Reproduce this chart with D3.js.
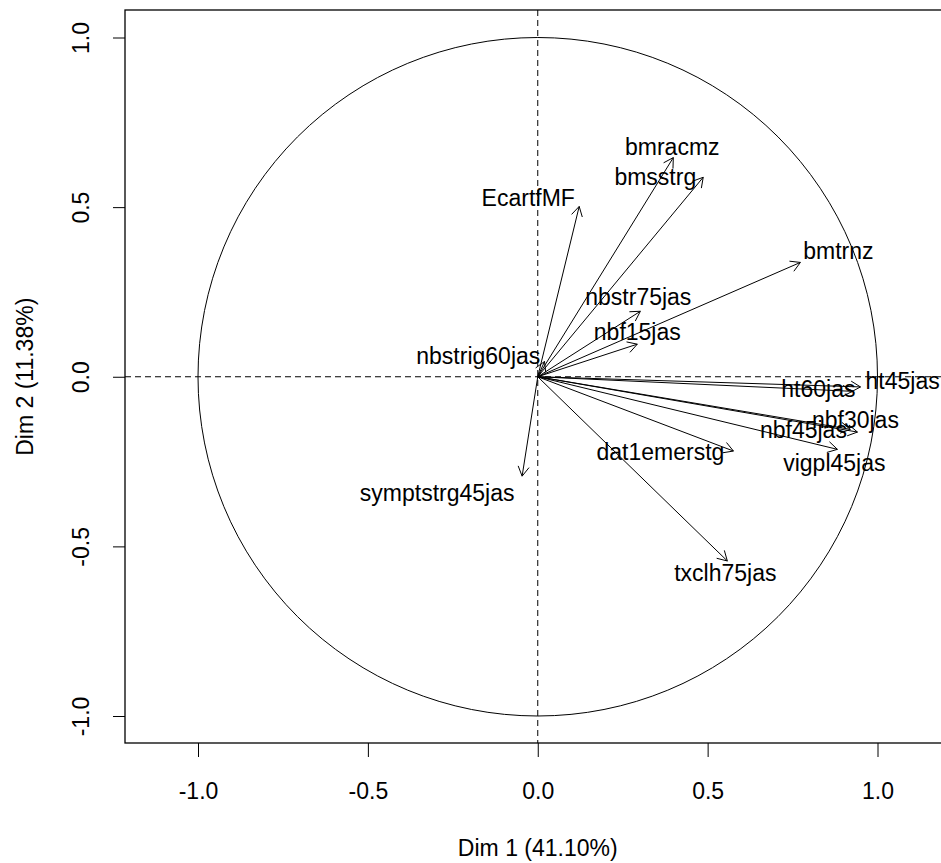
<!DOCTYPE html>
<html>
<head>
<meta charset="utf-8">
<script src="https://cdn.jsdelivr.net/npm/d3@7"></script>
<style>
  html, body { margin: 0; padding: 0; background: #fff; }
  text { font-family: "Liberation Sans", Arial, sans-serif; fill: #000; }
</style>
</head>
<body>
<div class="container"></div>
<script>
// variables of the factor map (coordinates on Dim 1 / Dim 2)
const varNames = ["bmtrnz", "bmracmz", "bmsstrg", "EcartfMF", "nbstr75jas", "nbf15jas",
  "nbstrig60jas", "symptstrg45jas", "ht45jas", "ht60jas", "nbf30jas", "nbf45jas",
  "vigpl45jas", "dat1emerstg", "txclh75jas"];
const dim1 = [0.773, 0.399, 0.487, 0.122, 0.302, 0.293, 0.02, -0.046, 0.95, 0.926, 0.941, 0.92, 0.882, 0.576, 0.558];
const dim2 = [0.337, 0.646, 0.588, 0.502, 0.193, 0.096, 0.045, -0.293, -0.03, -0.043, -0.163, -0.155, -0.214, -0.219, -0.543];
// where the labels sit (same units, shifted to avoid overlap like autoLab)
const labelDim1 = [0.885, 0.396, 0.346, -0.028, 0.296, 0.293, -0.175, -0.296, 1.074, 0.826, 0.935, 0.782, 0.873, 0.361, 0.552];
const labelDim2 = [0.37, 0.676, 0.588, 0.526, 0.234, 0.131, 0.06, -0.343, -0.013, -0.037, -0.128, -0.158, -0.255, -0.222, -0.579];

const tickValues = [-1.0, -0.5, 0.0, 0.5, 1.0];
const xTitle = "Dim 1 (41.10%)";
const yTitle = "Dim 2 (11.38%)";

const width = 941;
const height = 863;
const frame = { left: 125, top: 10, right: 944, bottom: 743 };

const svg = d3.select(".container").append("svg")
  .attr("width", width)
  .attr("height", height);

const x = d3.scaleLinear().domain([-1, 1]).range([198, 877.5]);
const y = d3.scaleLinear().domain([-1, 1]).range([716, 37.5]);

// R style labels: plain hyphen for the minus sign
const fmt = d => d.toFixed(1);

// axes
svg.append("g")
  .attr("transform", `translate(0,${frame.bottom})`)
  .call(d3.axisBottom(x).tickValues(tickValues).tickFormat(fmt).tickSize(14).tickPadding(26).tickSizeOuter(0))
  .call(g => g.select(".domain").remove())
  .call(g => g.selectAll("text").attr("font-size", 23).attr("font-family", "Liberation Sans, Arial, sans-serif"));

const yAxis = svg.append("g")
  .attr("transform", `translate(${frame.left},0)`)
  .call(d3.axisLeft(y).tickValues(tickValues).tickFormat(fmt).tickSize(12).tickSizeOuter(0))
  .call(g => g.select(".domain").remove());
yAxis.selectAll(".tick text")
  .attr("font-size", 23)
  .attr("font-family", "Liberation Sans, Arial, sans-serif")
  .attr("x", null).attr("dy", null)
  .attr("text-anchor", "middle")
  .attr("transform", "translate(-44,0) rotate(-90)")
  .attr("dy", "0.35em");

// frame
svg.append("rect")
  .attr("x", frame.left)
  .attr("y", frame.top)
  .attr("width", frame.right - frame.left)
  .attr("height", frame.bottom - frame.top)
  .attr("fill", "none")
  .attr("stroke", "#000")
  .attr("stroke-width", 1.3);

// unit circle
svg.append("ellipse")
  .attr("cx", x(0)).attr("cy", y(0))
  .attr("rx", x(1) - x(0)).attr("ry", y(0) - y(1))
  .attr("fill", "none")
  .attr("stroke", "#000")
  .attr("stroke-width", 1);

// dashed reference lines
svg.append("line")
  .attr("x1", frame.left).attr("x2", frame.right)
  .attr("y1", y(0)).attr("y2", y(0))
  .attr("stroke", "#000").attr("stroke-dasharray", "6,4");
svg.append("line")
  .attr("x1", x(0)).attr("x2", x(0))
  .attr("y1", frame.top).attr("y2", frame.bottom)
  .attr("stroke", "#000").attr("stroke-dasharray", "6,4");

// arrows
const vars = varNames.map((name, i) => ({ name, d1: dim1[i], d2: dim2[i], l1: labelDim1[i], l2: labelDim2[i] }));
const headLen = 11;
const headAng = Math.PI / 6;

const arrows = svg.append("g").attr("stroke", "#000").attr("stroke-width", 1).attr("fill", "none");
vars.forEach(v => {
  const x0 = x(0), y0 = y(0), x1 = x(v.d1), y1 = y(v.d2);
  const a = Math.atan2(y1 - y0, x1 - x0);
  const p = d3.path();
  p.moveTo(x0, y0); p.lineTo(x1, y1);
  p.moveTo(x1 - headLen * Math.cos(a - headAng), y1 - headLen * Math.sin(a - headAng));
  p.lineTo(x1, y1);
  p.lineTo(x1 - headLen * Math.cos(a + headAng), y1 - headLen * Math.sin(a + headAng));
  arrows.append("path").attr("d", p.toString());
});

svg.append("g")
  .selectAll("text")
  .data(vars)
  .enter()
  .append("text")
  .attr("x", d => x(d.l1))
  .attr("y", d => y(d.l2))
  .attr("dy", "0.35em")
  .attr("text-anchor", "middle")
  .attr("font-size", 23)
  .text(d => d.name);

// axis titles
svg.append("text")
  .attr("x", x(0))
  .attr("y", 848)
  .attr("dy", "0.35em")
  .attr("text-anchor", "middle")
  .attr("font-size", 23)
  .text(xTitle);

svg.append("text")
  .attr("transform", `translate(25,${y(0)}) rotate(-90)`)
  .attr("dy", "0.35em")
  .attr("text-anchor", "middle")
  .attr("font-size", 23)
  .text(yTitle);
</script>
</body>
</html>
